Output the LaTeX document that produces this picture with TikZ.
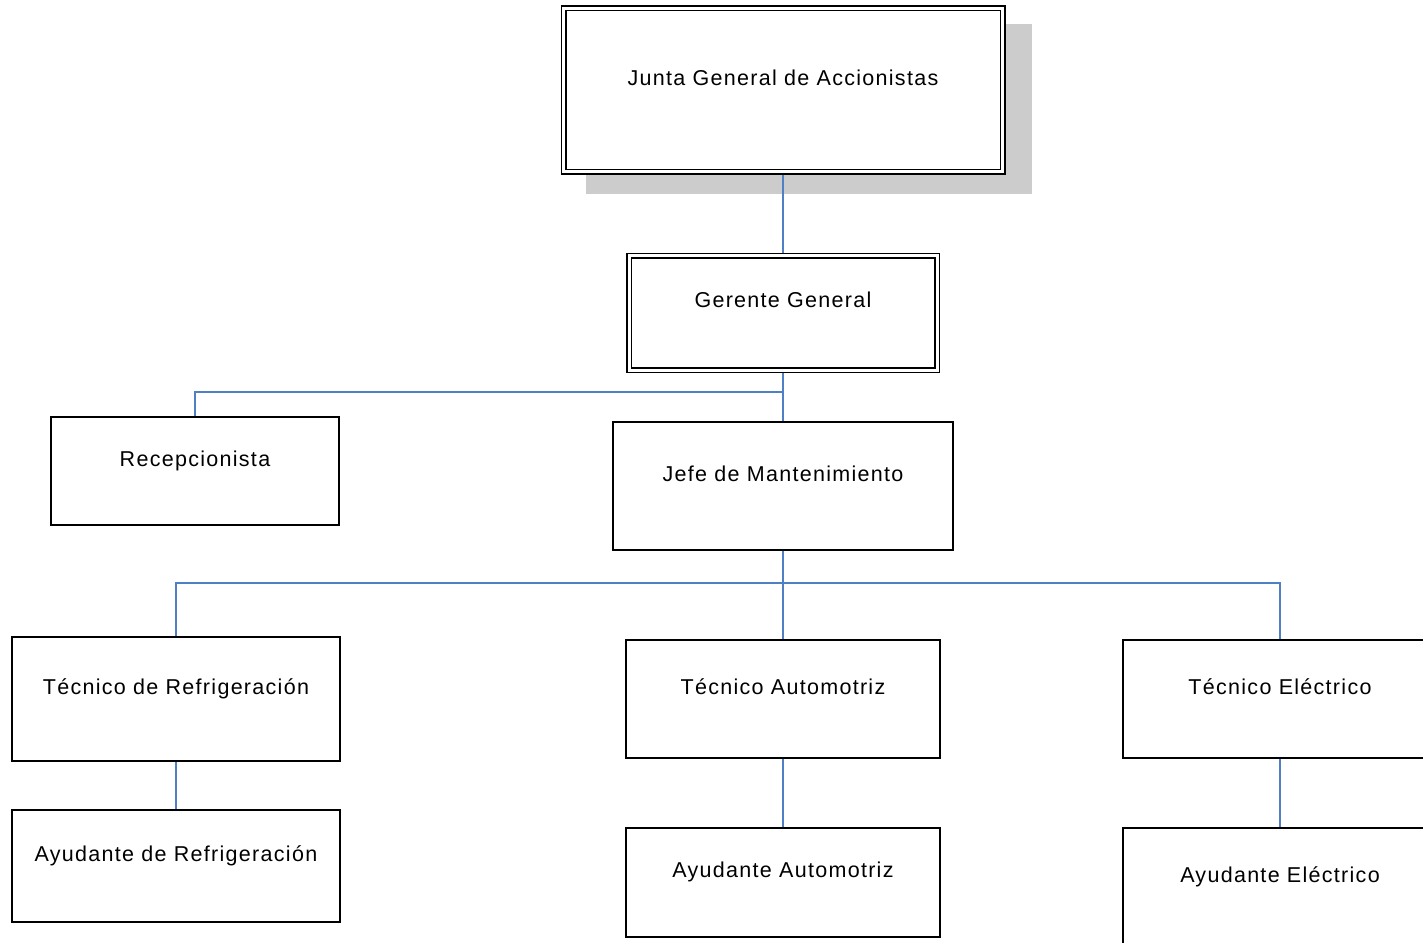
\documentclass[tikz,border=0pt]{standalone}
\usepackage{fontspec}
\setmainfont{Liberation Sans}[LetterSpace=6]
\begin{document}
\begin{tikzpicture}[x=1pt,y=-1pt,
  box/.style={draw=black, line width=1.6pt, fill=white, inner sep=0pt, minimum width=#1},
  dbox/.style={draw=black, line width=1.5pt, double=white, double distance=3pt, fill=white, inner sep=0pt, outer sep=3pt, minimum width=#1},
  lbl/.style={font=\fontsize{21.5}{24}\selectfont, anchor=base, inner sep=0pt},
  conn/.style={draw={rgb,255:red,79;green,127;blue,196}, line width=1.6pt},
  shadowbox/.style={fill=black!20, draw=none}]
\useasboundingbox (0,0) rectangle (1423,942);
\clip (0,0) rectangle (1423,942);
% shadow
\fill[shadowbox] (586,24) rectangle (1032,194);
% nodes
\node[dbox=439pt, minimum height=163pt] (jg) at (783,90) {};
\node[dbox=308pt, minimum height=114.5pt] (gg) at (783,312.75) {};
\node[box=288pt, minimum height=108pt] (rec) at (195,471) {};
\node[box=340pt, minimum height=128pt] (jefe) at (783,486) {};
\node[box=328pt, minimum height=124pt] (tr) at (176,699) {};
\node[box=314pt, minimum height=118pt] (ta) at (783,699) {};
\node[box=314pt, minimum height=118pt] (te) at (1280,699) {};
\node[box=328pt, minimum height=112pt] (ar) at (176,866) {};
\node[box=314pt, minimum height=109pt] (aa) at (783,882.5) {};
\node[box=314pt, minimum height=124pt] (ae) at (1280,890) {};
% labels
\node[lbl] (tjg) at (783,85) {Junta General de Accionistas};
\node[lbl] (tgg) at (783,307) {Gerente General};
\node[lbl] (trec) at (195,466) {Recepcionista};
\node[lbl] (tjefe) at (783,481) {Jefe de Mantenimiento};
\node[lbl] (ttr) at (176,694) {Técnico de Refrigeración};
\node[lbl] (tta) at (783,694) {Técnico Automotriz};
\node[lbl] (tte) at (1280,694) {Técnico Eléctrico};
\node[lbl] (tar) at (176,861) {Ayudante de Refrigeración};
\node[lbl] (taa) at (783,877) {Ayudante Automotriz};
\node[lbl] (tae) at (1280,882) {Ayudante Eléctrico};
% connectors
\coordinate (b1) at (783,392);
\coordinate (b2) at (783,583);
\draw[conn] (jg.south) -- (gg.north);
\draw[conn] (gg.south) -- (jefe.north);
\draw[conn] (rec.north) |- (b1);
\draw[conn] (jefe.south) -- (ta.north);
\draw[conn] (tr.north) |- (b2) -| (te.north);
\draw[conn] (tr.south) -- (ar.north);
\draw[conn] (ta.south) -- (aa.north);
\draw[conn] (te.south) -- (ae.north);
\end{tikzpicture}
\end{document}
